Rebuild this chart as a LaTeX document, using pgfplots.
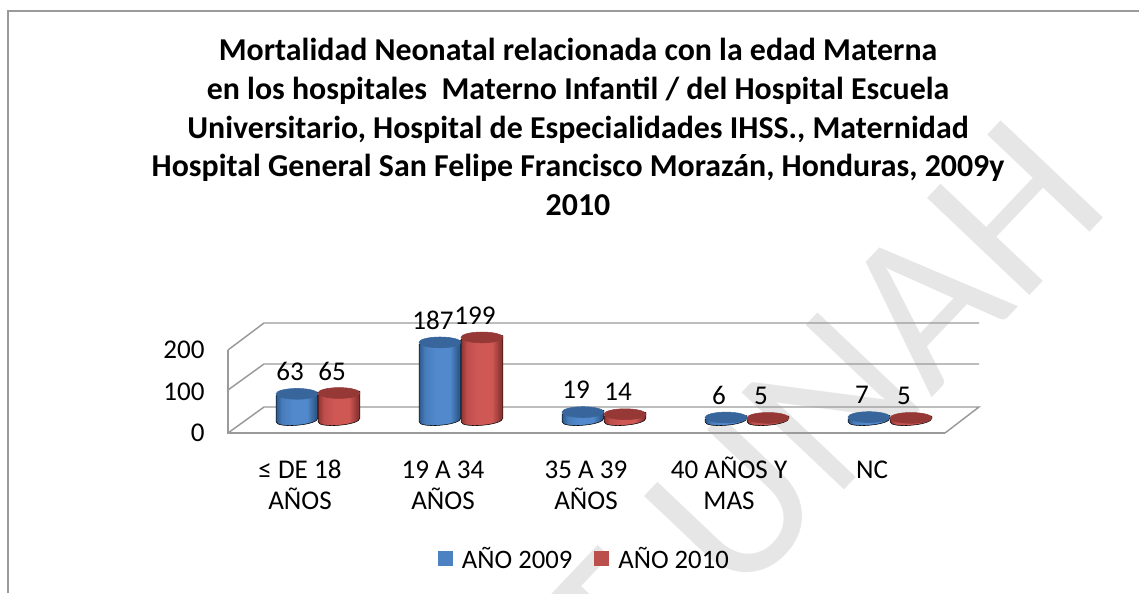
\documentclass[border=0pt]{standalone}
\usepackage{pgfplots}
\pgfplotsset{compat=1.18}
\usepackage{fontspec}
\setmainfont{Carlito}
\definecolor{bd}{HTML}{2E5A8C}\definecolor{bm}{HTML}{5189CC}\definecolor{bt}{HTML}{38669C}
\definecolor{rd}{HTML}{8E3432}\definecolor{rm}{HTML}{CF5855}\definecolor{rt}{HTML}{963836}
\definecolor{frame}{HTML}{9A9A9A}
\definecolor{wm}{HTML}{E6E6E6}
\pgfdeclarehorizontalshading{cylb}{100bp}{color(0bp)=(bd);color(25bp)=(bd);color(32bp)=(bm!75!bd);color(45bp)=(bm);color(62bp)=(bm);color(72bp)=(bd);color(75bp)=(bd);color(100bp)=(bd)}
\pgfdeclarehorizontalshading{cylr}{100bp}{color(0bp)=(rd);color(25bp)=(rd);color(32bp)=(rm!75!rd);color(45bp)=(rm);color(62bp)=(rm);color(72bp)=(rd);color(75bp)=(rd);color(100bp)=(rd)}
\newcommand\cyl[3]{%
  \pgfmathsetmacro\hh{\val*0.415}%
  \begin{scope}[x=0.75pt,y=0.75pt]
    \pgftransformxshift{#1*0.75pt}%
    \shade[shading=#2]
      (-20.9,-1.8) -- (20.9,1.8) -- (20.9,1.8-\hh)
      .. controls (20.9,-5.4-\hh) and (-20.9,-8.6-\hh) .. (-20.9,-1.8-\hh) -- cycle;
    \fill[#3,rotate=5] (0,0) ellipse (21 and 5.4);
  \end{scope}}
\pgfplotsset{
  pageaxis/.style={
    scale only axis, width=537.75pt, height=62.25pt,
    xmin=-0.6294, xmax=4.3846, ymin=0, ymax=200, clip=false,
    /pgf/number format/assume math mode=true,
  },
  cyl plot/.style={
    only marks, scatter, scatter src=y, mark=*, mark size=0pt,
    visualization depends on={rawy \as \val},
    scatter/@post marker code/.code={},
    nodes near coords,
    nodes near coords style={font=\fontsize{20.3}{22}\selectfont, text=black, anchor=center},
  },
}
\begin{document}
\begin{tikzpicture}
\useasboundingbox (0,0) rectangle (854.25pt,444.75pt);
\begin{scope}
\clip (0,0) rectangle (854.25pt,444.75pt);
\node[rotate=46.5,text=wm,font=\fontsize{165}{165}\selectfont,anchor=east,inner sep=0pt] at (797.25pt,325.5pt) {T UNAH};
\end{scope}
% chart border
\draw[frame,line width=1.1pt] (6pt,0pt) -- (6pt,436.5pt) -- (854.25pt,436.5pt);
% frame axis, ticks and category labels
\begin{axis}[pageaxis, at={(171pt,120pt)}, anchor=south west,
  axis line style={draw=none}, tick style={draw=none},
  ytick={0,100,200}, xtick={0,1,2,3,4},
  xticklabels={{\strut ≤ DE 18\\\strut AÑOS},{\strut 19 A 34\\\strut AÑOS},{\strut 35 A 39\\\strut AÑOS},{\strut 40 AÑOS Y\\\strut MAS},{\strut NC}},
  xticklabel style={font=\fontsize{20.3}{23.25}\selectfont, align=center, xshift=-13.5pt, anchor=north, yshift=-14.5pt},
  yticklabel style={font=\fontsize{20.3}{22}\selectfont, anchor=east, xshift=-14pt},
  title style={at={(0.4965,1)},anchor=south,xshift=-4.5pt,yshift=91pt,align=center,font=\fontsize{23.9}{29.1}\selectfont\bfseries},
  title={Mortalidad Neonatal relacionada con la edad Materna\\en los hospitales\ \ Materno Infantil / del Hospital Escuela\\Universitario, Hospital de Especialidades IHSS., Maternidad\\Hospital General San Felipe Francisco Morazán, Honduras, 2009y\\2010},
]
\draw[frame,line width=1.1pt] (axis cs:-0.6294,200) -- (axis cs:-0.6294,0) -- (axis cs:4.3846,0);
\end{axis}
% back walls and floor (pixel geometry of the 3D frame)
\begin{scope}[x=0.75pt,y=-0.75pt,shift={(0pt,444.75pt)},frame,line width=1.1pt]
  \draw (228,350) -- (264,323) -- (979,323);
  \draw (228,390) -- (264,364) -- (979,364);
  \draw (228,433) -- (264,407) -- (979,407) -- (945,433);
\end{scope}
% cylinders
\begin{axis}[pageaxis, at={(171pt,129.75pt)}, anchor=south west,
  axis lines=none,
  legend style={draw=none,fill=none,at={(0.4975,-1.67)},anchor=center,legend columns=2,
    font=\fontsize{20}{22}\selectfont,
    /tikz/every even column/.append style={column sep=14.5pt}},
  legend cell align=left,
]
\addlegendimage{legend image code/.code={\fill[fill=bm!95!black,draw=none] (0pt,-5.6pt) rectangle (11.25pt,5.6pt);\path[draw=none,fill=none] (0pt,0pt) -- (16pt,0pt);}}
\addlegendentry{AÑO 2009}
\addlegendimage{legend image code/.code={\fill[fill=rm!90!black,draw=none] (0pt,-5.6pt) rectangle (11.25pt,5.6pt);\path[draw=none,fill=none] (0pt,0pt) -- (16pt,0pt);}}
\addlegendentry{AÑO 2010}
\addplot[cyl plot, forget plot,
  scatter/@pre marker code/.code={\cyl{-21}{cylb}{bt}},
  every node near coord/.append style={xshift=-21pt,yshift=16.5pt}]
  coordinates {(0,63) (1,187) (2,19) (3,6) (4,7)};
\addplot[cyl plot, forget plot,
  scatter/@pre marker code/.code={\cyl{21}{cylr}{rt}},
  every node near coord/.append style={xshift=10.5pt,yshift=16.5pt}]
  coordinates {(0,65) (1,199) (2,14) (3,5) (4,5)};
\end{axis}
\end{tikzpicture}
\end{document}
